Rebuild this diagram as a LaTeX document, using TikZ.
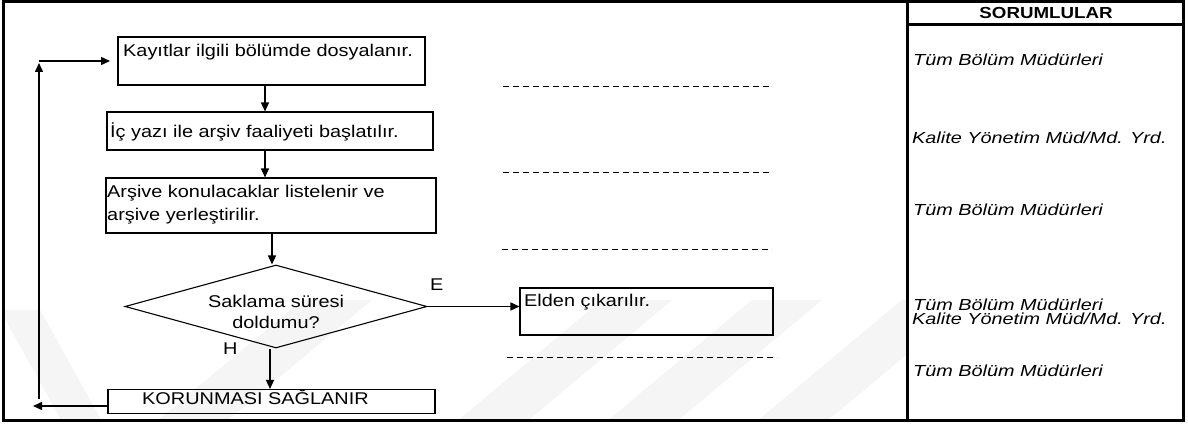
\documentclass[tikz,border=0pt]{standalone}
\usepackage{fontspec}
\setmainfont{Liberation Sans}[FakeStretch=1.17]
\newfontfamily\colfont{Liberation Sans}[FakeStretch=1.24]
\usetikzlibrary{arrows.meta,shapes.geometric}

\tikzset{
  frame/.style={line width=3pt},
  stepbox/.style={draw, line width=1.1pt, rectangle, inner sep=0pt},
  decision/.style={draw, line width=1.1pt, diamond, inner sep=0pt},
  txt/.style={inner sep=0pt, anchor=base west, font=\fontsize{17}{20}\selectfont},
  ctxt/.style={inner sep=0pt, font=\fontsize{17}{21}\selectfont},
  who/.style={inner sep=0pt, anchor=base west, font=\colfont\itshape\fontsize{16}{18}\selectfont},
  flow/.style={line width=1.5pt, -{Triangle[length=9pt,width=8pt]}},
  sep/.style={line width=1pt, dash pattern=on 6pt off 4pt},
  mark band/.style={fill=black!4, draw=none}
}

\begin{document}
\begin{tikzpicture}[x=1pt, y=-1pt]
\useasboundingbox (0,0) rectangle (1188,427);
\fill[white] (0,0) rectangle (1188,427);

% faint background stripes
\begin{scope}
  \clip (5,3) rectangle (906,418);
  \foreach \xa in {150,450,600,750} {
    \fill[mark band] (\xa,427) -- (\xa+70,427) -- (\xa+222,300) -- (\xa+152,300) -- cycle;
  }
  \fill[mark band] (0,310) -- (40,310) -- (105,427) -- (65,427) -- cycle;
\end{scope}

% outer frame and responsibility column
\draw[frame] (3.5,1.5) rectangle (1183.5,420);
\draw[frame] (907.5,1.5) -- (907.5,420);
\draw[frame] (907.5,25) -- (1183.5,25);
\node[inner sep=0pt, anchor=base, font=\bfseries\fontsize{16}{19}\selectfont] (head) at (1046,18.5) {SORUMLULAR};

% process steps
\node[stepbox, minimum width=307, minimum height=48] (b1) at (271.5,61) {};
\node[txt] (t1) at (123,57) {Kayıtlar ilgili bölümde dosyalanır.};

\node[stepbox, minimum width=326, minimum height=38] (b2) at (270,131) {};
\node[txt] (t2) at (110,137.5) {İç yazı ile arşiv faaliyeti başlatılır.};

\node[stepbox, minimum width=330, minimum height=55] (b3) at (271,205.5) {};
\node[txt] (t3a) at (107,197.5) {Arşive konulacaklar listelenir ve};
\node[txt] (t3b) at (107,221) {arşive yerleştirilir.};

\node[decision, minimum width=302, minimum height=83] (d) at (276,306.5) {};
\node[ctxt, align=center] (dt) at (276,311.5) {Saklama süresi\\doldumu?};

\node[stepbox, minimum width=253, minimum height=47] (e) at (646.5,311.5) {};
\node[txt] (et) at (524,307) {Elden çıkarılır.};

\node[stepbox, minimum width=327, minimum height=24] (k) at (271.5,401.5) {};
\node[txt] (kt) at (142,404.5) {KORUNMASI SAĞLANIR};

\node[txt] (lE) at (430,290.5) {E};
\node[txt] (lH) at (223,355) {H};

% connectors
\coordinate (xa) at (265,0);
\coordinate (xb) at (272,0);
\coordinate (xc) at (270,0);
\draw[flow] (b1.south -| xa) -- (b2.north -| xa);
\draw[flow] (b2.south -| xa) -- (b3.north -| xa);
\draw[flow] (b3.south -| xb) -- (d.north -| xb);
\draw[flow] (d.south -| xc) -- (k.north -| xc);
\draw[flow] (d.east) -- (e.west |- d.east);

% return loop
\coordinate (back) at (33,406);
\coordinate (up0) at (39,399);
\coordinate (up1) at (39,63);
\coordinate (top0) at (38.5,61);
\coordinate (top1) at (110,61);
\draw[flow] (k.west |- back) -- (back);
\draw[flow] (up0) -- (up1);
\draw[flow] (top0) -- (top1);

% row separators
\coordinate (s1a) at (503,87);    \coordinate (s1b) at (772,87);
\coordinate (s2a) at (503,173);   \coordinate (s2b) at (772,173);
\coordinate (s3a) at (502,250);   \coordinate (s3b) at (772,250);
\coordinate (s4a) at (507,357);   \coordinate (s4b) at (777,357);
\draw[sep] (s1a) -- (s1b);
\draw[sep] (s2a) -- (s2b);
\draw[sep] (s3a) -- (s3b);
\draw[sep] (s4a) -- (s4b);

% responsibilities
\node[who] (r1) at (913,66) {Tüm Bölüm Müdürleri};
\node[who] (r2) at (912,144) {Kalite Yönetim Müd/Md. Yrd.};
\node[who] (r3) at (913,216) {Tüm Bölüm Müdürleri};
\node[who] (r4) at (913,311) {Tüm Bölüm Müdürleri};
\node[who] (r5) at (912,325) {Kalite Yönetim Müd/Md. Yrd.};
\node[who] (r6) at (913,377) {Tüm Bölüm Müdürleri};
\end{tikzpicture}
\end{document}
